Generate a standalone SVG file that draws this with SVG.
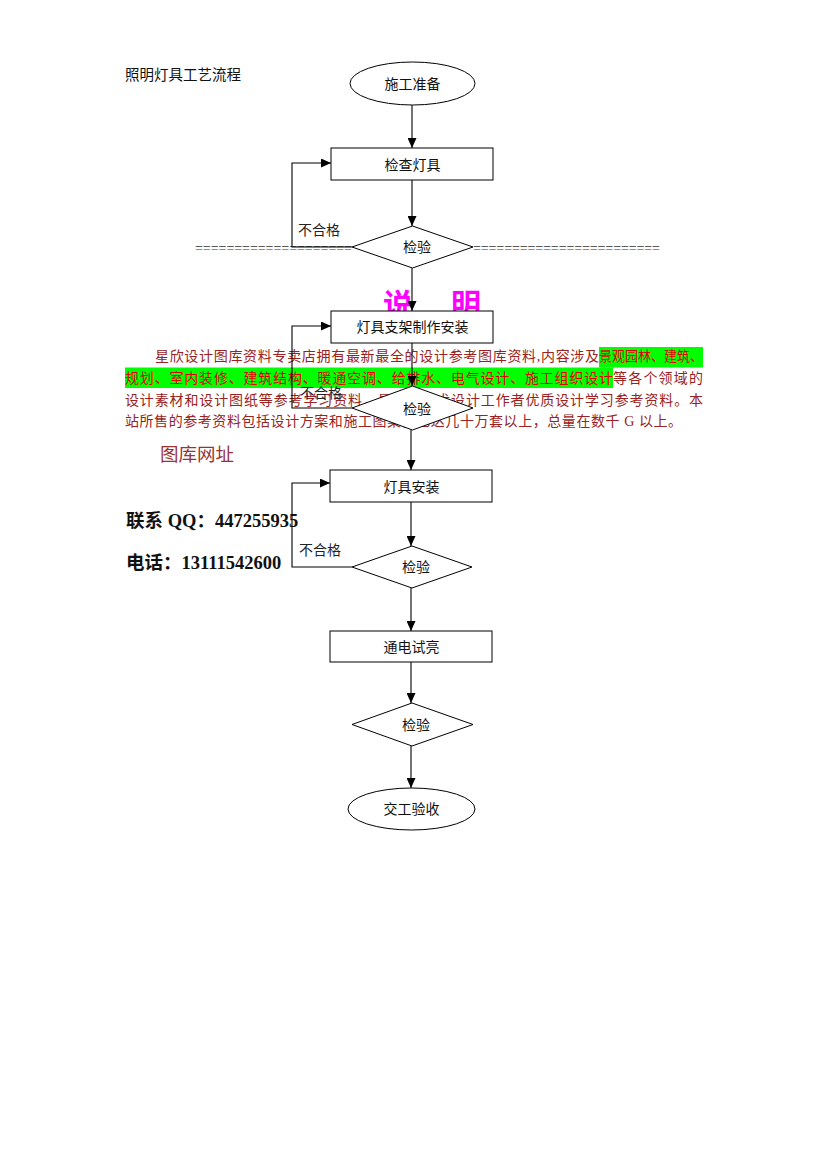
<svg xmlns="http://www.w3.org/2000/svg" width="826" height="1169" viewBox="0 0 826 1169">
<style>
  .cn { font-family: "Liberation Serif", "Noto Sans CJK SC", serif; }
  .lbl { font-family: "Liberation Serif", "Noto Sans CJK SC", serif; font-size: 14px; fill: #111; text-anchor: middle; }
  .no { font-family: "Liberation Serif", "Noto Sans CJK SC", serif; font-size: 14px; fill: #222; }
  .shape { fill: #fff; stroke: #000; stroke-width: 1; }
  .conn { fill: none; stroke: #000; stroke-width: 1.1; }
  .para { font-family: "Liberation Serif", "Noto Sans CJK SC", serif; font-size: 14px; fill: #992222; }
  .hl { fill: #e00000; }
  .eq { font-family: "Liberation Serif", serif; font-size: 14px; fill: #333; }
</style>
<defs>
  <marker id="arr" markerUnits="userSpaceOnUse" markerWidth="10" markerHeight="9" refX="10" refY="4.5" orient="auto">
    <path d="M0,0 L10,4.5 L0,9 z" fill="#000"/>
  </marker>
</defs>
<rect width="826" height="1169" fill="#fff"/>

<text class="cn" x="125" y="80" font-size="14.5" fill="#111">照明灯具工艺流程</text>

<!-- separator lines of '=' characters -->
<text class="eq" x="195" y="253" textLength="157" lengthAdjust="spacing">====================</text>
<text class="eq" x="473" y="253" textLength="187" lengthAdjust="spacing">========================</text>

<!-- ad paragraph -->
<g id="paragraph">
  <rect x="599" y="347" width="104" height="20.5" fill="#00ff00"/>
  <rect x="125" y="367.5" width="488" height="20.5" fill="#00ff00"/>
  <text class="para" x="155" y="361" textLength="444" lengthAdjust="spacing">星欣设计图库资料专卖店拥有最新最全的设计参考图库资料,内容涉及</text>
  <text class="para hl" x="599" y="361" textLength="104" lengthAdjust="spacingAndGlyphs">景观园林、建筑、</text>
  <text class="para hl" x="125" y="383" textLength="488" lengthAdjust="spacing">规划、室内装修、建筑结构、暖通空调、给排水、电气设计、施工组织设计</text>
  <text class="para" x="613" y="383" textLength="90" lengthAdjust="spacing">等各个领域的</text>
  <text class="para" x="125" y="404.5" textLength="266.8" lengthAdjust="spacing">设计素材和设计图纸等参考学习资料，是</text>
  <text class="para" x="436.2" y="404.5" textLength="266.8" lengthAdjust="spacing">术设计工作者优质设计学习参考资料。本</text>
  <text class="para" x="125" y="426" textLength="557" lengthAdjust="spacing">站所售的参考资料包括设计方案和施工图集，已达几十万套以上，总量在数千 G 以上。</text>
</g>

<text class="cn" x="383 451" y="315" font-size="30" font-weight="bold" fill="#ff00ff">说明</text>

<text class="cn" x="160" y="461" font-size="18.5" fill="#993333">图库网址</text>
<text class="cn" x="126" y="527" font-size="18.5" font-weight="bold" fill="#111">联系 QQ：447255935</text>
<text class="cn" x="126" y="569" font-size="18.5" font-weight="bold" fill="#111">电话：13111542600</text>

<g id="connectors">
  <path class="conn" d="M412,105 V148" marker-end="url(#arr)"/>
  <path class="conn" d="M412,180 V226" marker-end="url(#arr)"/>
  <path class="conn" d="M352,247 H292 V163 H331" marker-end="url(#arr)"/>
  <path class="conn" d="M412,268 V311" marker-end="url(#arr)"/>
  <path class="conn" d="M412,343 V386" marker-end="url(#arr)"/>
  <path class="conn" d="M352,408 H292 V326 H331" marker-end="url(#arr)"/>
  <path class="conn" d="M411,430 V470" marker-end="url(#arr)"/>
  <path class="conn" d="M411,502 V546" marker-end="url(#arr)"/>
  <path class="conn" d="M352,567 H292 V483 H330" marker-end="url(#arr)"/>
  <path class="conn" d="M411,588 V631" marker-end="url(#arr)"/>
  <path class="conn" d="M411,662 V703" marker-end="url(#arr)"/>
  <path class="conn" d="M411,746 V788" marker-end="url(#arr)"/>
  <text class="no" x="298" y="235">不合格</text>
  <text class="no" x="300" y="398">不合格</text>
  <text class="no" x="299" y="555">不合格</text>
</g>

<g id="n1">
  <ellipse class="shape" cx="412.5" cy="83.5" rx="62.5" ry="21.5"/>
  <text class="lbl" x="412.5" y="88.5">施工准备</text>
</g>
<g id="n2">
  <rect class="shape" x="331" y="148" width="162" height="32"/>
  <text class="lbl" x="412.5" y="169.5">检查灯具</text>
</g>
<g id="d1">
  <polygon class="shape" points="412.5,226 473,247 412.5,268 352,247"/>
  <text class="lbl" x="417" y="252">检验</text>
</g>
<g id="n3">
  <rect class="shape" x="331" y="311" width="162" height="32"/>
  <text class="lbl" x="412.5" y="332">灯具支架制作安装</text>
</g>
<g id="d2">
  <polygon class="shape" points="412.5,386 473,408 412.5,430 352,408"/>
  <text class="lbl" x="417" y="413.5">检验</text>
</g>
<g id="n4">
  <rect class="shape" x="330" y="470" width="162" height="32"/>
  <text class="lbl" x="411.5" y="491.5">灯具安装</text>
</g>
<g id="d3">
  <polygon class="shape" points="412,546 472,567 412,588 352,567"/>
  <text class="lbl" x="416" y="572">检验</text>
</g>
<g id="n5">
  <rect class="shape" x="330" y="631" width="162" height="31"/>
  <text class="lbl" x="411.5" y="651.5">通电试亮</text>
</g>
<g id="d4">
  <polygon class="shape" points="412,703 473,724.5 412,746 352,724.5"/>
  <text class="lbl" x="416" y="729.5">检验</text>
</g>
<g id="n6">
  <ellipse class="shape" cx="411.5" cy="809" rx="63.5" ry="21"/>
  <text class="lbl" x="411.5" y="814">交工验收</text>
</g>
</svg>
